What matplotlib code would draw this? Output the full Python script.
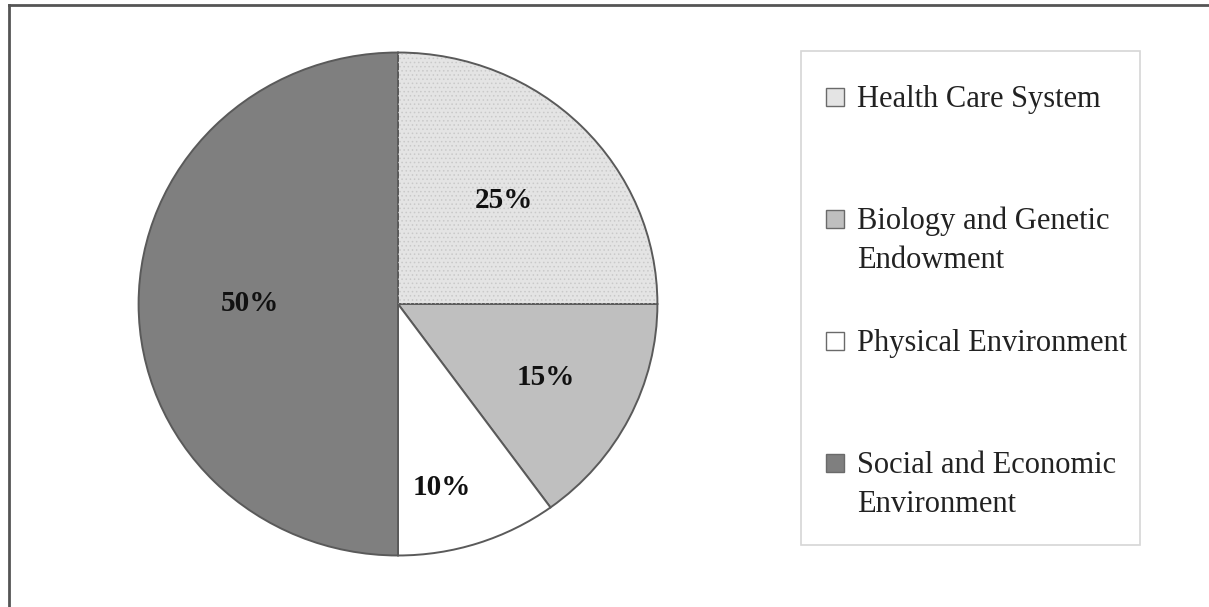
import matplotlib.pyplot as plt
from matplotlib.patches import Wedge, Rectangle
from matplotlib.lines import Line2D
import numpy as np

plt.rcParams["font.family"] = ["Liberation Serif", "DejaVu Serif"]
plt.rcParams["hatch.linewidth"] = 0.6

# ====== data ======
labels = ["Health Care System", "Biology and Genetic\nEndowment",
          "Physical Environment", "Social and Economic\nEnvironment"]
shares = [25, 15, 10, 50]

# ====== style ======
colors = ["#e4e4e4", "#bfbfbf", "#ffffff", "#7f7f7f"]
label_r = [0.58, 0.64, 0.75, 0.57]
label_dang = [0, 0, -5, 0]   # best-fit style nudges (deg)

fig = plt.figure(figsize=(12.09, 6.07), dpi=100)

# outer frame (top + left only, rest cut off)
fig.add_artist(Line2D([9 / 1209, 9 / 1209], [0, 1 - 5 / 607], transform=fig.transFigure,
                      color="#555555", lw=2))
fig.add_artist(Line2D([9 / 1209, 1], [1 - 5 / 607, 1 - 5 / 607], transform=fig.transFigure,
                      color="#555555", lw=2))

# pie
ax = fig.add_axes([136 / 1209, 49 / 607, 524 / 1209, 508 / 607])
wedges, _ = ax.pie(shares, colors=colors, startangle=90, counterclock=False,
                   radius=1.0, wedgeprops=dict(edgecolor="#5a5a5a", linewidth=1.4))
ax.set_aspect("auto")
ax.set_xlim(-1.01, 1.01)
ax.set_ylim(-1.01, 1.01)
ax.axis("off")

# light dotted texture on the health care slice
w0 = wedges[0]
ax.add_patch(Wedge(w0.center, w0.r * 0.995, w0.theta1, w0.theta2, fill=False,
                   hatch="....", edgecolor="#c9c9c9", linewidth=0, zorder=w0.get_zorder() + 0.1))

for w, s, r, da in zip(wedges, shares, label_r, label_dang):
    mid = np.deg2rad((w.theta1 + w.theta2) / 2 + da)
    ax.text(r * np.cos(mid), r * np.sin(mid), f"{s}%", ha="center", va="center",
            fontsize=21, fontweight="bold", color="#111111", zorder=5)

# legend box (manual, marker aligned with first text line)
fig.add_artist(Rectangle((801 / 1209, 1 - 545 / 607), 339 / 1209, 494 / 607,
                         transform=fig.transFigure, facecolor="white",
                         edgecolor="#d6d6d6", lw=1.2))
top = 97
step = 122
for i, (lab, c) in enumerate(zip(labels, colors)):
    yc = top + i * step
    fig.add_artist(Rectangle((826 / 1209, 1 - (yc + 9) / 607), 18 / 1209, 18 / 607,
                             transform=fig.transFigure, facecolor=c,
                             edgecolor="#6a6a6a", lw=1.0))
    fig.text(857 / 1209, 1 - (yc - 12) / 607, lab, ha="left", va="top",
             fontsize=22, color="#222222", linespacing=1.45)

fig.savefig("out.png", dpi=100)
